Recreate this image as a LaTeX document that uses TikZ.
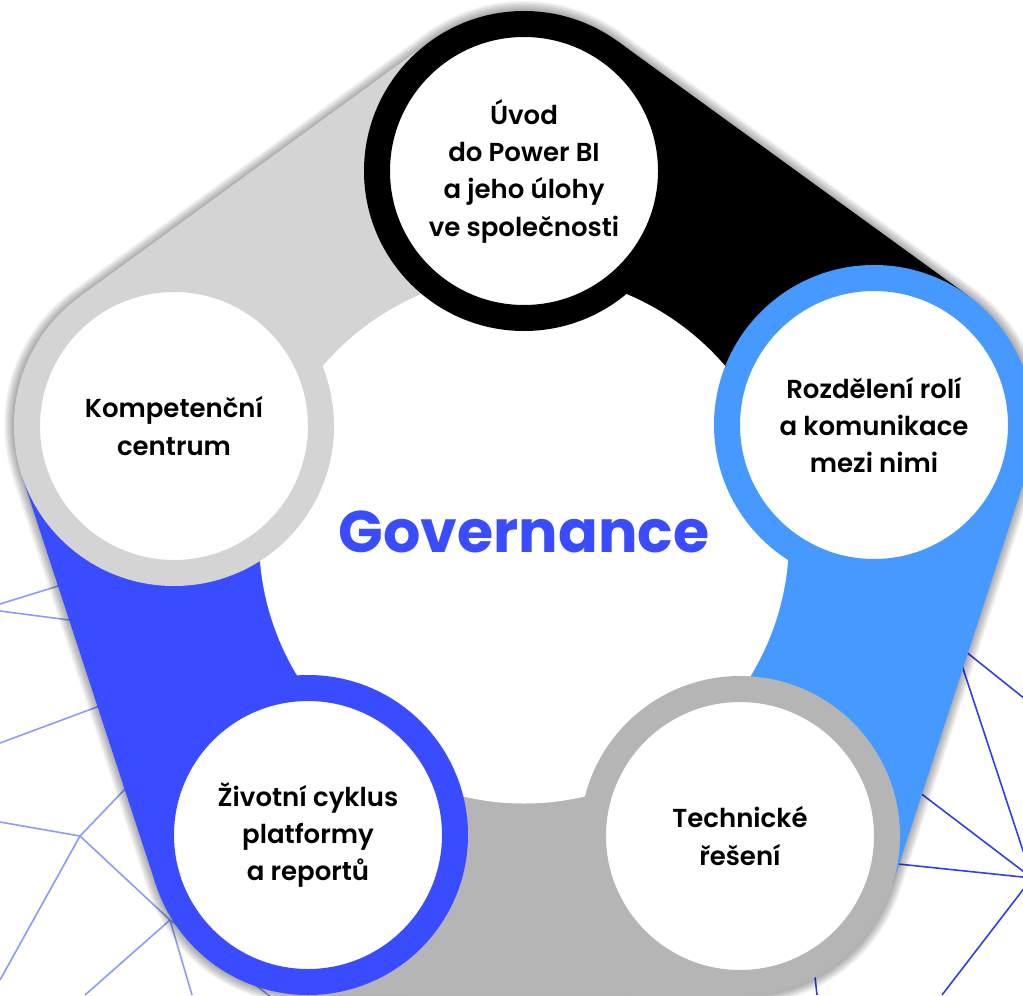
\documentclass[tikz,border=0pt]{standalone}
\usepackage{fontspec}
\setmainfont{Poppins}
\newfontfamily\labelfont{Poppins SemiBold}
\newfontfamily\titlefont{Poppins Bold}

\definecolor{govblue}{RGB}{58,76,255}
\definecolor{skyblue}{RGB}{69,153,255}
\definecolor{palegray}{RGB}{212,212,212}
\definecolor{midgray}{RGB}{181,181,181}
\definecolor{webpale}{RGB}{140,155,248}
\definecolor{webdeep}{RGB}{48,64,232}

\begin{document}
\begin{tikzpicture}[x=0.75pt, y=-0.75pt,
	topic/.style={circle, draw=#1, line width=19.5pt, fill=white, minimum size=220.5pt, inner sep=0pt, align=center, font=\labelfont\fontsize{19.5}{28}\selectfont},
	band/.style={draw=#1, line width=240pt},
	web/.style={draw=#1, line width=1.2pt}]
	\useasboundingbox (0,0) rectangle (1023,995);
	\clip (0,0) rectangle (1023,995);

	% pentagon corners
	\coordinate (c-top) at (524,171);
	\coordinate (c-right) at (874,425);
	\coordinate (c-br) at (740,836);
	\coordinate (c-bl) at (308,835);
	\coordinate (c-left) at (174,426);

	% web in the background
	\coordinate (wa) at (80,836);
	\coordinate (wb) at (170,920);
	\coordinate (wc) at (1032,878);
	\draw[web=webpale] (0,604) -- (100,573);
	\draw[web=webpale] (0,611) -- (100,624);
	\draw[web=webpale] (0,743) -- (140,691);
	\draw[web=webpale] (0,822) -- (wa);
	\draw[web=webpale] (wa) -- (150,763);
	\draw[web=webpale] (wa) -- (0,980);
	\draw[web=webpale] (wa) -- (wb);
	\draw[web=webpale] (wb) -- (85,995);
	\draw[web=webpale] (wb) -- (192,995);
	\draw[web=webpale] (wb) -- (275,1000);
	\draw[web=webdeep] (920,615) -- (1040,711);
	\draw[web=webdeep] (950,629) -- (wc);
	\draw[web=webdeep] (890,770) -- (wc);
	\draw[web=webdeep] (860,860) -- (wc);
	\draw[web=webdeep] (wc) -- (942,995);
	\draw[web=webdeep] (812,950) -- (817,995);

	% soft shadow
	\foreach \g [evaluate=\g as \w using 240+2*\g] in {1,...,7}{
		\begin{scope}[transparency group, opacity=0.05, shift={(1.5,1.5)}]
			\draw[line width=\w pt, line join=round] (c-left) -- (c-top) -- (c-right) -- (c-br) -- (c-bl) -- cycle;
		\end{scope}
	}

	% bands
	\draw[band=palegray] (c-left) -- (c-top);
	\draw[band=black] (c-top) -- (c-right);
	\draw[band=skyblue] (c-right) -- (c-br);
	\draw[band=midgray] (c-br) -- (c-bl);
	\draw[band=govblue] (c-bl) -- (c-left);

	\node[circle, fill=white, minimum size=397.5pt, inner sep=0pt] (hub) at (524,538.5) {};
	\node[font=\titlefont\fontsize{44}{50}\selectfont, text=govblue] (title) at (524,532) {Governance};

	\node[topic=black] (intro) at (c-top) {Úvod\\do Power BI\\a jeho úlohy\\ve společnosti};
	\node[topic=skyblue] (roles) at (c-right) {Rozdělení rolí\\a komunikace\\mezi nimi};
	\node[topic=midgray] (tech) at (c-br) {Technické\\řešení};
	\node[topic=govblue] (cycle) at (c-bl) {Životní cyklus\\platformy\\a reportů};
	\node[topic=palegray] (centre) at (c-left) {Kompetenční\\centrum};
\end{tikzpicture}
\end{document}
